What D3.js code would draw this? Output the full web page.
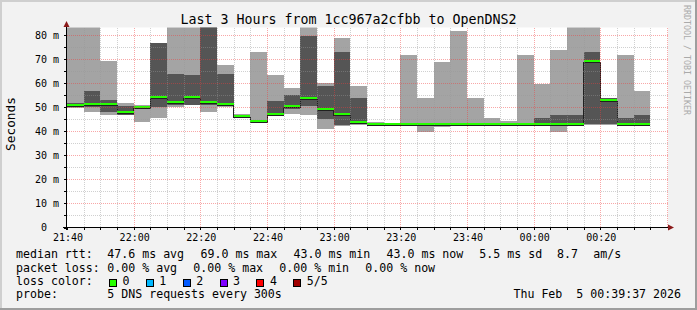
<!DOCTYPE html>
<html>
<head>
<meta charset="utf-8">
<script src="https://cdn.jsdelivr.net/npm/d3@7"></script>
<style>
  body { margin: 0; background: #f2f2f2; }
  svg { display: block; font-family: "DejaVu Sans Mono", monospace; }
  text { white-space: pre; }
</style>
</head>
<body>
<svg id="chart" width="697" height="310"></svg>
<script>
// 5 minute bins, 5 DNS pings each, sorted fastest -> slowest (ms)
var binStart = ["21:40","21:45","21:50","21:55","22:00","22:05","22:10","22:15","22:20","22:25",
                "22:30","22:35","22:40","22:45","22:50","22:55","23:00","23:05","23:10","23:15",
                "23:20","23:25","23:30","23:35","23:40","23:45","23:50","23:55","00:00","00:05",
                "00:10","00:15","00:20","00:25","00:30"]
var ping1  = [49.6,48.2,46.8,46.8,44.0,45.7,50.0,50.9,48.2,50.4,
              45.9,43.7,46.5,47.2,46.9,41.0,42.2,42.9,42.9,42.9,
              42.9,39.8,41.9,42.5,42.8,42.9,42.9,42.9,42.9,39.8,
              42.8,42.8,42.9,42.9,42.9]
var ping2  = [50.2,50.0,48.3,46.9,49.4,50.3,51.0,51.0,51.0,50.5,
              46.0,43.8,46.6,49.3,50.5,45.4,42.8,43.0,43.0,43.0,
              43.0,42.9,42.9,42.9,42.9,42.9,42.9,42.9,43.0,43.0,
              43.0,43.0,43.0,43.0,43.0]
var median = [51.0,51.1,51.1,48.1,49.8,54.0,51.9,54.0,52.0,51.4,
              46.2,44.0,47.0,50.3,53.6,49.0,46.9,43.9,43.0,43.0,
              43.0,43.0,43.0,43.0,43.0,43.0,43.0,43.0,43.0,43.0,
              43.0,69.0,52.8,43.0,43.0]
var ping4  = [51.8,56.9,53.0,50.5,50.8,76.7,63.9,63.5,95.0,63.9,
              46.8,44.2,52.8,55.1,79.8,58.9,73.0,53.8,43.2,43.1,
              43.1,43.1,43.1,43.1,43.1,43.1,43.1,43.1,45.6,46.8,
              46.8,73.0,53.8,45.5,46.8]
var ping5  = [95.0,95.0,69.4,51.8,51.0,77.0,95.0,95.0,95.0,67.6,
              47.2,73.0,63.5,58.0,95.0,60.1,78.9,58.9,43.8,43.2,
              71.8,53.8,68.9,81.8,53.8,45.5,44.2,71.8,59.7,73.9,
              95.0,95.0,54.0,71.8,56.8]

var yTicks = [0,10,20,30,40,50,60,70,80]
var xTickLabels = ["21:40","22:00","22:20","22:40","23:00","23:20","23:40","00:00","00:20"]

var rttStats  = ["47.6 ms avg","69.0 ms max","43.0 ms min","43.0 ms now","5.5 ms sd","8.7","am/s"]
var lossStats = ["0.00 % avg","0.00 % max","0.00 % min","0.00 % now"]
var lossNames  = ["0","1","2","3","4","5/5"]
var lossColors = ["#26ff00","#00b8ff","#0059ff","#7e00ff","#ff0000","#a00000"]

var svg = d3.select("#chart")
var W = 697, H = 310
var plotL = 67, plotR = 667, plotT = 27.5, plotB = 227.5

var parseFull = d3.timeParse("%Y-%m-%d %H:%M")
function toDate(hm) {
    var h = +hm.slice(0, 2)
    return parseFull((h < 12 ? "2026-02-05 " : "2026-02-04 ") + hm)
}
var t0 = toDate(binStart[0])
var t1 = d3.timeHour.offset(t0, 3)

var x = d3.scaleTime().domain([t0, t1]).range([plotL, plotR])
var y = d3.scaleLinear().domain([0, 83.333]).range([plotB, plotT])

// background + 3d frame
svg.append("rect").attr("width", W).attr("height", H).attr("fill", "#f2f2f2")
svg.append("rect").attr("x", 0).attr("y", 0).attr("width", W).attr("height", 2).attr("fill", "#cfcfcf")
svg.append("rect").attr("x", 0).attr("y", 0).attr("width", 2).attr("height", H).attr("fill", "#cfcfcf")
svg.append("rect").attr("x", 0).attr("y", H - 2).attr("width", W).attr("height", 2).attr("fill", "#9e9e9e")
svg.append("rect").attr("x", W - 2).attr("y", 0).attr("width", 2).attr("height", H).attr("fill", "#9e9e9e")

// canvas
svg.append("rect").attr("x", plotL).attr("y", plotT).attr("width", plotR - plotL + 1).attr("height", plotB - plotT)
    .attr("fill", "#ffffff")

svg.append("clipPath").attr("id", "plotclip")
    .append("rect").attr("x", plotL).attr("y", plotT).attr("width", plotR - plotL).attr("height", plotB - plotT)

var plot = svg.append("g").attr("clip-path", "url(#plotclip)")

// smoke
var bins = binStart.map(function(s, i) {
    var t = toDate(s)
    return { t: t, t2: d3.timeMinute.offset(t, 5), p1: ping1[i], p2: ping2[i], med: median[i], p4: ping4[i], p5: ping5[i] }
})

plot.selectAll("rect.outer").data(bins).enter().append("rect")
    .attr("class", "outer")
    .attr("x", function(d) { return x(d.t) })
    .attr("width", function(d) { return x(d.t2) - x(d.t) })
    .attr("y", function(d) { return y(d.p5) })
    .attr("height", function(d) { return y(d.p1) - y(d.p5) })
    .attr("fill", "#a4a4a4")
    .attr("shape-rendering", "crispEdges")

plot.selectAll("rect.inner").data(bins).enter().append("rect")
    .attr("class", "inner")
    .attr("x", function(d) { return x(d.t) })
    .attr("width", function(d) { return x(d.t2) - x(d.t) })
    .attr("y", function(d) { return y(d.p4) })
    .attr("height", function(d) { return y(d.p2) - y(d.p4) })
    .attr("fill", "#555555")
    .attr("shape-rendering", "crispEdges")

// median: thin dark step line + loss coloured segments
var stepPts = bins.map(function(d) { return [x(d.t), y(d.med)] })
stepPts.push([x(bins[bins.length - 1].t2), y(bins[bins.length - 1].med)])
plot.append("path")
    .attr("d", d3.line().curve(d3.curveStepAfter)(stepPts))
    .attr("transform", "translate(0,1)")
    .attr("fill", "none")
    .attr("stroke", "#202020")
    .attr("stroke-width", 1)
    .attr("shape-rendering", "crispEdges")

plot.selectAll("line.med").data(bins).enter().append("line")
    .attr("class", "med")
    .attr("x1", function(d) { return x(d.t) })
    .attr("x2", function(d) { return x(d.t2) })
    .attr("y1", function(d) { return y(d.med) - 0.5 })
    .attr("y2", function(d) { return y(d.med) - 0.5 })
    .attr("stroke", lossColors[0])
    .attr("stroke-width", 2)
    .attr("shape-rendering", "crispEdges")

// grid (drawn over the data like rrdtool does)
var grid = svg.append("g").attr("shape-rendering", "crispEdges").attr("stroke-dasharray", "1,1")
var hVals = d3.range(5, 83, 5)
grid.selectAll("line.h").data(hVals).enter().append("line")
    .attr("x1", plotL).attr("x2", plotR + 1)
    .attr("y1", function(d) { return Math.round(y(d)) + 0.5 })
    .attr("y2", function(d) { return Math.round(y(d)) + 0.5 })
    .attr("stroke", function(d) { return d % 10 == 0 ? "rgba(240,60,60,0.45)" : "rgba(150,150,150,0.45)" })

var vTimes = d3.timeMinute.every(5).range(d3.timeMinute.offset(t0, 1), d3.timeMinute.offset(t1, 1))
grid.selectAll("line.v").data(vTimes).enter().append("line")
    .attr("y1", plotT).attr("y2", plotB)
    .attr("x1", function(d) { return Math.round(x(d)) + 0.5 })
    .attr("x2", function(d) { return Math.round(x(d)) + 0.5 })
    .attr("stroke", function(d) { return d.getMinutes() % 20 == 0 ? "rgba(240,60,60,0.45)" : "rgba(150,150,150,0.45)" })

// axes
var axes = svg.append("g").attr("shape-rendering", "crispEdges")
axes.append("line").attr("x1", 63).attr("x2", plotR + 2).attr("y1", 227.5).attr("y2", 227.5).attr("stroke", "#000")
axes.append("line").attr("x1", 66.5).attr("x2", 66.5).attr("y1", 230).attr("y2", 24).attr("stroke", "#000")
axes.selectAll("line.xt").data(d3.timeMinute.every(5).range(t0, t1)).enter().append("line")
    .attr("x1", function(d) { return Math.round(x(d)) + 0.5 })
    .attr("x2", function(d) { return Math.round(x(d)) + 0.5 })
    .attr("y1", 228).attr("y2", 230).attr("stroke", "#000")
axes.selectAll("line.yt").data(d3.range(0, 83, 5)).enter().append("line")
    .attr("x1", 64).attr("x2", 66)
    .attr("y1", function(d) { return Math.round(y(d)) + 0.5 })
    .attr("y2", function(d) { return Math.round(y(d)) + 0.5 })
    .attr("stroke", "#000")

// arrows
svg.append("path").attr("d", "M668,224.5 L674,227.5 L668,230.5 Z").attr("fill", "#8b1a1a")
svg.append("path").attr("d", "M63.5,27 L66.5,21 L69.5,27 Z").attr("fill", "#8b1a1a")

// tick labels
svg.selectAll("text.yl").data(yTicks).enter().append("text")
    .attr("x", 59)
    .attr("y", function(d) { return y(d) + 3.6 })
    .attr("text-anchor", "end")
    .attr("font-size", "10px")
    .attr("fill", "#000")
    .text(function(d) { return d == 0 ? "0  " : d + " m" })

svg.selectAll("text.xl").data(xTickLabels).enter().append("text")
    .attr("x", function(d) { return x(toDate(d)) + 1 })
    .attr("y", 241)
    .attr("text-anchor", "middle")
    .attr("font-size", "10px")
    .attr("fill", "#000")
    .text(function(d) { return d })

// title, y label, watermark
svg.append("text").attr("x", 348.5).attr("y", 24).attr("text-anchor", "middle")
    .attr("font-size", "13.3px").attr("fill", "#000")
    .text("Last 3 Hours from 1cc967a2cfbb to OpenDNS2")

svg.append("text").attr("transform", "translate(15,124) rotate(-90)").attr("text-anchor", "middle")
    .attr("font-size", "12.8px").attr("fill", "#000").text("Seconds")

svg.append("text").attr("transform", "translate(684,60) rotate(90)").attr("text-anchor", "middle")
    .attr("font-size", "8.3px").attr("fill", "#aaaaaa").text("RRDTOOL / TOBI OETIKER")

// legend
var lg = svg.append("g").attr("font-size", "11.6px").attr("fill", "#000")
var row1 = 258.3, row2 = 271.6, row3 = 285, row4 = 298

lg.append("text").attr("x", 16).attr("y", row1).text("median rtt:")
var rttX = [107.3, 200.5, 293.5, 386.5, 479.3, 557, 593.3]
rttStats.forEach(function(s, i) {
    lg.append("text").attr("x", rttX[i]).attr("y", row1).text(s)
})

lg.append("text").attr("x", 16).attr("y", row2).text("packet loss:")
var lossX = [107.3, 193.3, 279.3, 365.3]
lossStats.forEach(function(s, i) {
    lg.append("text").attr("x", lossX[i]).attr("y", row2).text(s)
})

lg.append("text").attr("x", 16).attr("y", row3).text("loss color:")
lossNames.forEach(function(s, i) {
    var bx = 109 + 36.87 * i
    lg.append("rect").attr("x", Math.round(bx) + 0.5).attr("y", 279.5).attr("width", 7).attr("height", 7)
        .attr("fill", lossColors[i]).attr("stroke", "#000").attr("stroke-width", 1)
        .attr("shape-rendering", "crispEdges")
    lg.append("text").attr("x", bx + 13.5).attr("y", row3).text(s)
})

lg.append("text").attr("x", 16).attr("y", row4).text("probe:")
lg.append("text").attr("x", 107.3).attr("y", row4).text("5 DNS requests every 300s")
lg.append("text").attr("x", 681).attr("y", row4).attr("text-anchor", "end").text("Thu Feb  5 00:39:37 2026")
</script>
</body>
</html>
